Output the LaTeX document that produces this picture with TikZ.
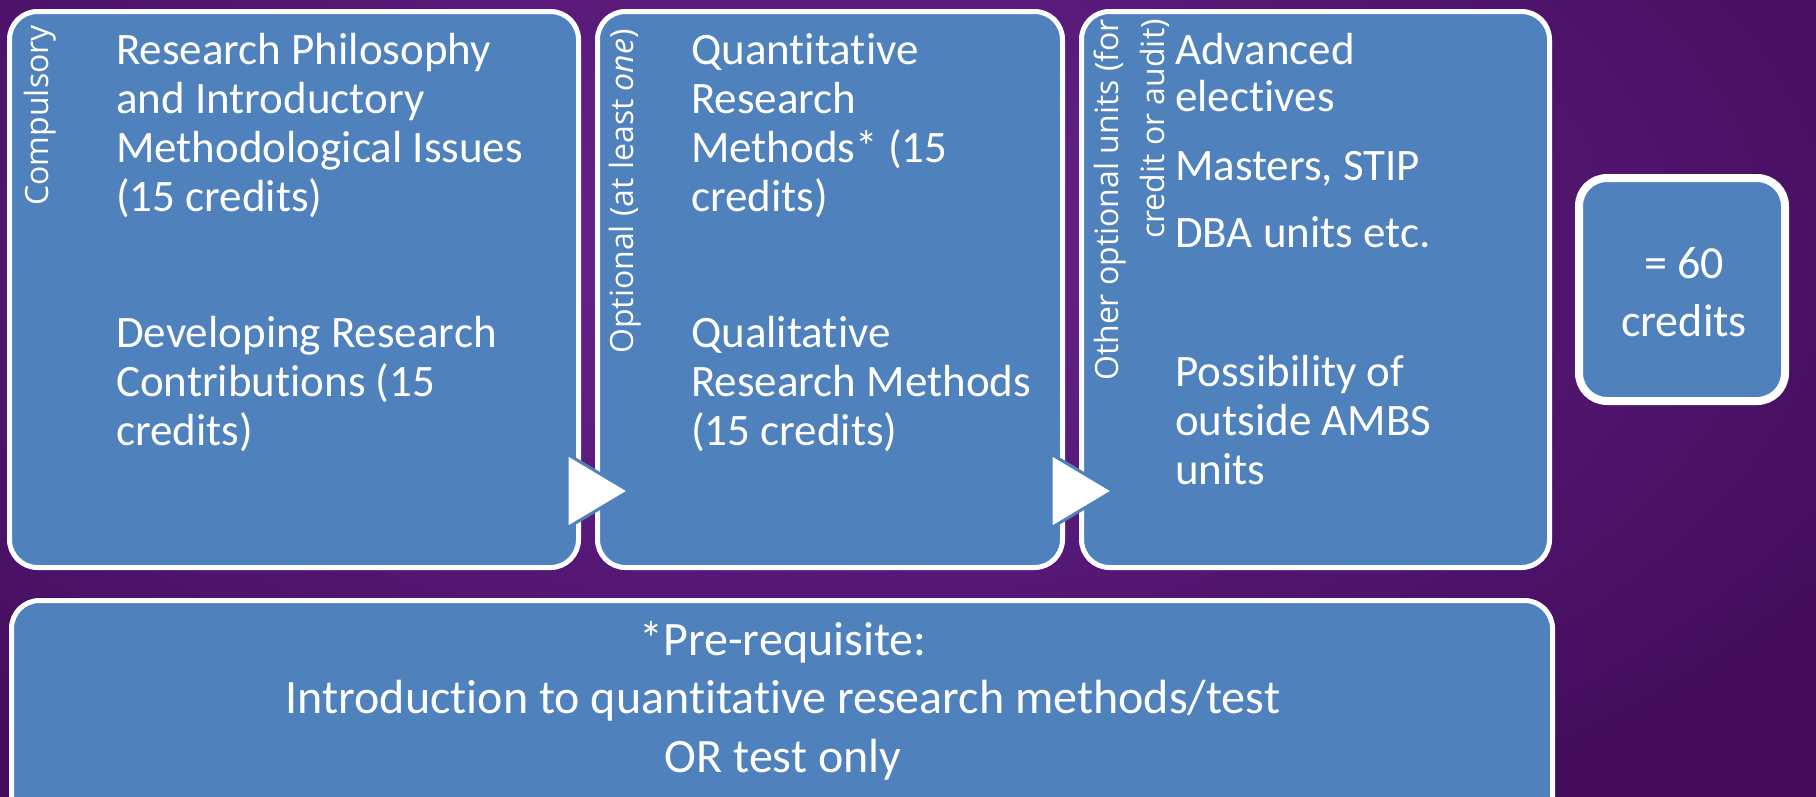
\documentclass[tikz,border=0pt]{standalone}
\usepackage{fontspec}
\setmainfont{Carlito}[Ligatures=NoCommon]
\newfontfamily\rotfont{Open Sans}
\usetikzlibrary{shadings}
\definecolor{boxblue}{HTML}{4F81BD}
\definecolor{bgin}{HTML}{6A2490}
\definecolor{bgout}{HTML}{430D5C}
\newcommand\leftlines[1]{\vtop{\halign{##\hfil\cr#1\crcr}}}
\newcommand\centerlines[1]{\vtop{\halign{\hfil##\hfil\cr#1\crcr}}}
\begin{document}
\begin{tikzpicture}[x=1pt,y=-1pt,
  box/.style={draw=white, line width=5pt, fill=boxblue, rounded corners=28pt, inner sep=0pt},
  main/.style={text=white, font=\fontsize{45}{49}\selectfont, inner sep=0pt, anchor=base west},
  rot/.style={text=white, font=\rotfont\fontsize{32}{46}\selectfont, rotate=90, inner sep=0pt, anchor=east},
  tri/.style={fill=white, draw=boxblue, line width=3pt, line join=miter}]
\useasboundingbox (0,0) rectangle (1816,796);
\clip (0,0) rectangle (1816,796);
\shade[inner color=bgin, outer color=bgout] (-400,-400) rectangle (2000,900);

% boxes
\node[box, minimum width=569pt, minimum height=556pt] (b1) at (294,289.5) {};
\node[box, minimum width=465pt, minimum height=556pt] (b2) at (830,289.5) {};
\node[box, minimum width=468pt, minimum height=556pt] (b3) at (1315.5,289.5) {};
\node[box, line width=8pt, minimum width=206pt, minimum height=223pt] (b4) at (1682,289.5) {};
\node[box, minimum width=1541pt, minimum height=240pt] (b5) at (782,720.5) {};

% arrows
\coordinate (t1) at (567,491);
\coordinate (t2) at (1051,491);
\draw[tri] (t1) -- ++(0,-37) -- ++(62,37) -- ++(-62,37) -- cycle;
\draw[tri] (t2) -- ++(0,-37) -- ++(62,37) -- ++(-62,37) -- cycle;

% box 1
\node[rot] (l1) at (40,25) {Compulsory};
\node[main] (p1a) at (116,64) {\leftlines{Research Philosophy\cr and Introductory\cr Methodological Issues\cr (15 credits)}};
\node[main] (p1b) at (116,347) {\leftlines{Developing Research\cr Contributions (15\cr credits)}};

% box 2
\node[rot] (l2) at (625,29) {Optional (at least \textit{one})};
\node[main] (p2a) at (691,64) {\leftlines{Quantitative\cr Research\cr Methods* (15\cr credits)}};
\node[main] (p2b) at (691,347) {\leftlines{Qualitative\cr Research Methods\cr (15 credits)}};

% box 3
\node[rot, align=right] (l3) at (1132,19) {Other optional units (for\\credit or audit)};
\node[main, font=\fontsize{45}{47}\selectfont] (p3a) at (1175,64) {\leftlines{Advanced\cr electives}};
\node[main] (p3b) at (1175,180) {Masters, STIP};
\node[main] (p3c) at (1175,247) {DBA units etc.};
\node[main] (p3d) at (1175,386) {\leftlines{Possibility of\cr outside AMBS\cr units}};

% box 4
\node[text=white, font=\fontsize{46}{58}\selectfont, inner sep=0pt, anchor=base] (p4) at (1684,278) {\centerlines{= 60\cr credits}};

% bottom box
\node[text=white, font=\fontsize{48}{58.5}\selectfont, inner sep=0pt, anchor=base] (p5) at (783,655) {\centerlines{*Pre-requisite:\cr Introduction to quantitative research methods/test\cr OR test only}};
\end{tikzpicture}
\end{document}
